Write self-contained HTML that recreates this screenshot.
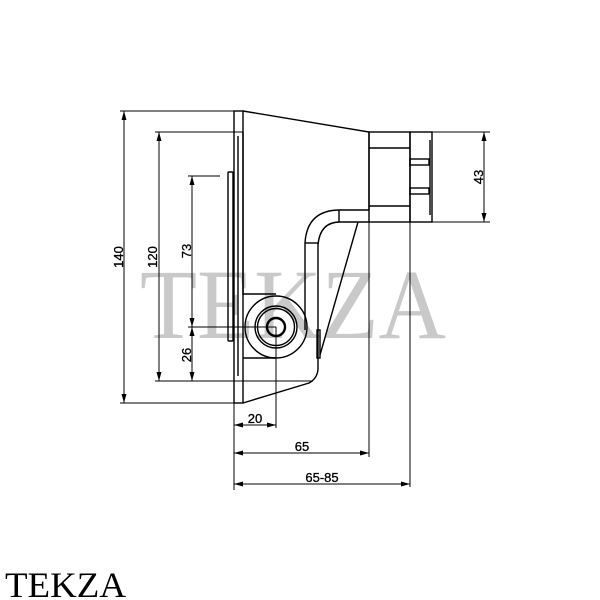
<!DOCTYPE html>
<html><head><style>html,body{margin:0;padding:0;background:#fff}svg{display:block}</style></head>
<body>
<svg width="600" height="600" viewBox="0 0 600 600" xmlns="http://www.w3.org/2000/svg">
<text x="140" y="338" font-family="Liberation Serif, serif" font-size="100" fill="#c9c9c9" textLength="306" lengthAdjust="spacingAndGlyphs">TEKZA</text>
<g fill="none" stroke="#000" stroke-width="1.4">
<rect x="234" y="111" width="9" height="292"/>
<rect x="228" y="172" width="5" height="169" rx="1"/>
<line x1="238" y1="136" x2="238" y2="376"/>
<polyline points="243,111 369,132 369,210"/>
<polyline points="243,132 243,294 276,294"/>
<line x1="243" y1="358" x2="276" y2="358"/>
<path d="M243,403 L309,383 Q318,378 318,368 L318,245 Q320,222 340,222 L369,222"/>
<path d="M305,330 L305,243 Q307,210 340,210 L369,210"/>
<line x1="339" y1="210" x2="339" y2="222"/>
<line x1="305" y1="243" x2="318" y2="243"/>
<line x1="358" y1="222" x2="320" y2="355"/>
<rect x="317" y="330" width="3" height="28"/>
<rect x="369" y="132" width="41" height="90"/>
<line x1="369" y1="148" x2="410" y2="148"/>
<line x1="369" y1="206" x2="410" y2="206"/>
<rect x="410" y="132" width="22" height="90"/>
<rect x="410" y="159" width="19" height="6"/>
<rect x="410" y="188" width="19" height="6"/>
<line x1="430" y1="140" x2="430" y2="215"/>
<circle cx="276" cy="327" r="31"/>
<circle cx="276" cy="327" r="21"/>
<circle cx="276" cy="327" r="18.5"/>
<circle cx="276" cy="327" r="9" stroke-width="2.4"/>
</g>
<g fill="none" stroke="#000" stroke-width="1">
<line x1="120" y1="111" x2="234" y2="111"/>
<line x1="120" y1="403" x2="234" y2="403"/>
<line x1="155" y1="132" x2="243" y2="132"/>
<line x1="155" y1="381" x2="313" y2="381"/>
<line x1="188" y1="176" x2="220" y2="176"/>
<line x1="188" y1="327" x2="276" y2="327"/>
<line x1="432" y1="132" x2="490" y2="132"/>
<line x1="432" y1="222" x2="490" y2="222"/>
<line x1="234" y1="403" x2="234" y2="490"/>
<line x1="276" y1="327" x2="276" y2="428"/>
<line x1="369" y1="222" x2="369" y2="457"/>
<line x1="410" y1="222" x2="410" y2="487"/>
<line x1="124" y1="111" x2="124" y2="403"/>
<line x1="159" y1="132" x2="159" y2="381"/>
<line x1="192" y1="176" x2="192" y2="381"/>
<line x1="484" y1="132" x2="484" y2="222"/>
<line x1="234" y1="425" x2="276" y2="425"/>
<line x1="234" y1="453" x2="369" y2="453"/>
<line x1="234" y1="484" x2="410" y2="484"/>
</g>
<g fill="#000">
<path d="M124,111 l-2.5,9 h5z M124,403 l-2.5,-9 h5z"/>
<path d="M159,132 l-2.5,9 h5z M159,381 l-2.5,-9 h5z"/>
<path d="M192,176 l-2.5,9 h5z M192,327 l-2.5,-9 h5z M192,327 l-2.5,9 h5z M192,381 l-2.5,-9 h5z"/>
<path d="M484,132 l-2.5,9 h5z M484,222 l-2.5,-9 h5z"/>
<path d="M234,425 l9,-2.5 v5z M276,425 l-9,-2.5 v5z"/>
<path d="M234,453 l9,-2.5 v5z M369,453 l-9,-2.5 v5z"/>
<path d="M234,484 l9,-2.5 v5z M410,484 l-9,-2.5 v5z"/>
</g>
<g font-family="Liberation Sans, sans-serif" font-size="13" fill="#000" text-anchor="middle" stroke="#000" stroke-width="0.3">
<text transform="translate(123,257) rotate(-90)">140</text>
<text transform="translate(157,257) rotate(-90)">120</text>
<text transform="translate(191,251) rotate(-90)">73</text>
<text transform="translate(191,355) rotate(-90)">26</text>
<text transform="translate(483,177) rotate(-90)">43</text>
<text x="255" y="423">20</text>
<text x="302" y="451">65</text>
<text x="322" y="482">65-85</text>
</g>
<text x="5" y="597" font-family="Liberation Serif, serif" font-size="36" fill="#000" textLength="121" lengthAdjust="spacingAndGlyphs">TEKZA</text>
</svg>
</body></html>
